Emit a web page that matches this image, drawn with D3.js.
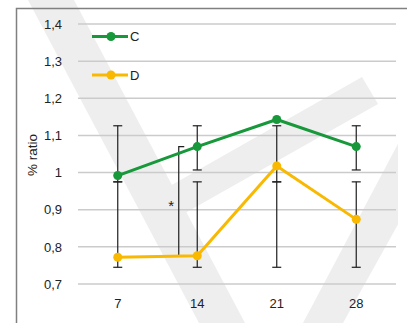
<!DOCTYPE html>
<html>
<head>
<meta charset="utf-8">
<script src="https://cdn.jsdelivr.net/npm/d3@7"></script>
<style>
  html, body { margin: 0; padding: 0; background: #fff; }
  svg { display: block; font-family: "Liberation Sans", Arial, sans-serif; }
</style>
</head>
<body>
<svg id="chart" width="407" height="323"></svg>
<script>
// Days of measurement
const days = ["7", "14", "21", "28"];

// Series means
const seriesC = [0.992, 1.07, 1.143, 1.07];
const seriesD = [0.772, 0.776, 1.018, 0.874];

// Error bar extents
const errCLow = [0.975, 1.007, 0.975, 1.007];
const errCHigh = [1.126, 1.126, 1.126, 1.126];
const errDLow = [0.745, 0.745, 0.745, 0.745];
const errDHigh = [0.975, 0.975, 0.975, 0.975];

// Y axis ticks
const yTicks = [0.7, 0.8, 0.9, 1.0, 1.1, 1.2, 1.3, 1.4];
const yTickLabels = ["0,7", "0,8", "0,9", "1", "1,1", "1,2", "1,3", "1,4"];

const svg = d3.select("#chart");
const W = 407, H = 323;
const plot = { left: 78, right: 396, top: 24, bottom: 284 };

const x = d3.scaleBand().domain(days).range([plot.left, plot.right]);
const cx = d => x(d) + x.bandwidth() / 2;
const y = d3.scaleLinear().domain([0.7, 1.4]).range([plot.bottom, plot.top]);

const green = "#17983a";
const gold = "#f9b900";

// Faint diagonal background bands
const bands = svg.append("g").attr("fill", "#eeeeee");
bands.append("polygon").attr("points", "28,0 74,0 245,323 199,323");
bands.append("polygon").attr("points", "140,203 362,77 378,104 155,230");
bands.append("polygon").attr("points", "303,323 400,140 445,140 343,323");
svg.append("rect").attr("x", 398).attr("y", 12).attr("width", 9).attr("height", H - 12).attr("fill", "#fff");

// Frame
svg.append("path")
  .attr("d", `M16.5,${H} V8.5 H${W}`)
  .attr("fill", "none").attr("stroke", "#808080").attr("stroke-width", 1.5);

// Gridlines
svg.append("g").selectAll("line").data(yTicks).join("line")
  .attr("x1", plot.left).attr("x2", plot.right)
  .attr("y1", d => y(d)).attr("y2", d => y(d))
  .attr("stroke", "#cbcbcb").attr("stroke-width", 1.5);

// Y tick labels
const yAxis = d3.axisLeft(y).tickValues(yTicks)
  .tickFormat((d, i) => yTickLabels[i]).tickSize(0).tickPadding(0);
const gy = svg.append("g").attr("transform", "translate(62,0)").call(yAxis);
gy.select(".domain").remove();
gy.selectAll("text").attr("font-size", 13).attr("fill", "#222")
  .attr("font-family", "Liberation Sans, Arial, sans-serif");

// X tick labels
const xAxis = d3.axisBottom(x).tickSize(0).tickPadding(0);
const gx = svg.append("g").attr("transform", "translate(0,299)").call(xAxis);
gx.select(".domain").remove();
gx.selectAll("text").attr("font-size", 13).attr("fill", "#222")
  .attr("font-family", "Liberation Sans, Arial, sans-serif");

// Y axis title
svg.append("text")
  .attr("transform", "translate(37,155) rotate(-90)")
  .attr("text-anchor", "middle")
  .attr("font-size", 13.5).attr("fill", "#222")
  .text("% ratio");

// Error bars
function errorBars(lows, highs) {
  const g = svg.append("g").attr("stroke", "#1e1e1e").attr("stroke-width", 1.2);
  days.forEach((d, i) => {
    const px = cx(d);
    g.append("line").attr("x1", px).attr("x2", px).attr("y1", y(highs[i])).attr("y2", y(lows[i]));
    [lows[i], highs[i]].forEach(v => {
      g.append("line").attr("x1", px - 4.5).attr("x2", px + 4.5).attr("y1", y(v)).attr("y2", y(v));
    });
  });
}
errorBars(errDLow, errDHigh);
errorBars(errCLow, errCHigh);

// Significance bracket between series at day 14
const bx = cx("14") - 18.5;
svg.append("path")
  .attr("d", `M${bx + 5.5},${y(seriesC[1])} H${bx} V${y(seriesD[1])} H${bx + 5.5}`)
  .attr("fill", "none").attr("stroke", "#1e1e1e").attr("stroke-width", 1.2);
svg.append("text")
  .attr("x", bx - 7.5).attr("y", y(seriesC[1]) + 64)
  .attr("text-anchor", "middle").attr("font-size", 15).attr("fill", "#222")
  .text("*");

// Series lines and markers
const line = d3.line().x((v, i) => cx(days[i])).y(v => y(v));
function drawSeries(vals, color) {
  svg.append("path").datum(vals).attr("d", line)
    .attr("fill", "none").attr("stroke", color).attr("stroke-width", 3)
    .attr("stroke-linejoin", "round");
  svg.append("g").selectAll("circle").data(vals).join("circle")
    .attr("cx", (v, i) => cx(days[i])).attr("cy", v => y(v)).attr("r", 4.5)
    .attr("fill", color);
}
drawSeries(seriesD, gold);
drawSeries(seriesC, green);

// Legend
const legend = [{ name: "C", color: green, y: 36.5 }, { name: "D", color: gold, y: 75 }];
const lg = svg.append("g");
legend.forEach(l => {
  lg.append("line").attr("x1", 92).attr("x2", 128).attr("y1", l.y).attr("y2", l.y)
    .attr("stroke", l.color).attr("stroke-width", 3);
  lg.append("circle").attr("cx", 111).attr("cy", l.y).attr("r", 4.5).attr("fill", l.color);
  lg.append("text").attr("x", 130).attr("y", l.y).attr("dy", "0.35em")
    .attr("font-size", 13).attr("fill", "#222").text(l.name);
});
</script>
</body>
</html>
